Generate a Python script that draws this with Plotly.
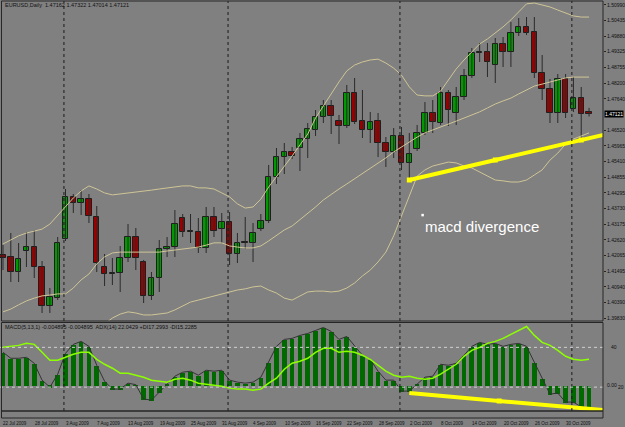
import plotly.graph_objects as go
import pandas as pd

# ---------------- data ----------------
dates = pd.bdate_range("2009-07-22", "2009-11-04")
idx = list(range(len(dates)))

opens = [1.42077, 1.42006, 1.41471, 1.42220, 1.42362, 1.41649, 1.40259, 1.40544, 1.42648, 1.44145,
         1.43931, 1.44074, 1.43432, 1.41649, 1.41400, 1.41436, 1.41970, 1.42719, 1.41828, 1.40616,
         1.41257, 1.42291, 1.42362, 1.43396, 1.42933, 1.42897, 1.42327, 1.43432, 1.43004, 1.43254,
         1.42113, 1.42541, 1.42505, 1.43004, 1.43289, 1.44858, 1.45571, 1.45749, 1.45892, 1.46213,
         1.46533, 1.46997, 1.47389, 1.46854, 1.46676, 1.47853, 1.46854, 1.46533, 1.46854, 1.46070,
         1.45749, 1.46320, 1.45357, 1.45856, 1.46427, 1.47140, 1.46783, 1.47853, 1.47140, 1.47710,
         1.48459, 1.49279, 1.49314, 1.48851, 1.49599, 1.49314, 1.49992, 1.50205, 1.50027, 1.48566,
         1.47995, 1.47140, 1.48352, 1.47282, 1.47674, 1.47162]
highs = [1.42434, 1.42862, 1.42505, 1.42897, 1.42968, 1.41863, 1.40901, 1.42719, 1.44430, 1.44252,
         1.44394, 1.44252, 1.43824, 1.42113, 1.41970, 1.42398, 1.43182, 1.43040, 1.41899, 1.41471,
         1.42612, 1.42719, 1.43681, 1.43539, 1.43539, 1.43396, 1.43788, 1.43788, 1.43575, 1.43610,
         1.42862, 1.43432, 1.43218, 1.43539, 1.45286, 1.45892, 1.46070, 1.45927, 1.46427, 1.46783,
         1.47246, 1.47603, 1.47603, 1.47068, 1.48138, 1.48387, 1.47959, 1.47175, 1.47140, 1.46284,
         1.46605, 1.46640, 1.46427, 1.46712, 1.47532, 1.47603, 1.48066, 1.47959, 1.48066, 1.48708,
         1.49457, 1.49635, 1.49635, 1.49813, 1.49849, 1.50384, 1.50526, 1.50562, 1.50562, 1.49207,
         1.48352, 1.48530, 1.48530, 1.48423, 1.48066, 1.47322]
lows = [1.41542, 1.41115, 1.41115, 1.41649, 1.41257, 1.40010, 1.40010, 1.40473, 1.42576, 1.43575,
        1.43503, 1.43218, 1.41471, 1.40972, 1.41008, 1.40758, 1.41828, 1.41542, 1.40366, 1.40473,
        1.40758, 1.42006, 1.42006, 1.42719, 1.42505, 1.42149, 1.42149, 1.42719, 1.42505, 1.41721,
        1.41792, 1.42291, 1.41828, 1.42933, 1.43218, 1.44608, 1.44965, 1.45500, 1.45072, 1.45535,
        1.46320, 1.46783, 1.46391, 1.46034, 1.46605, 1.46747, 1.46248, 1.46070, 1.45571, 1.45214,
        1.45535, 1.45107, 1.44751, 1.45785, 1.46355, 1.46427, 1.46712, 1.46676, 1.46712, 1.47603,
        1.48387, 1.48958, 1.48423, 1.48209, 1.48779, 1.48779, 1.49885, 1.49920, 1.48387, 1.47603,
        1.46783, 1.46783, 1.46961, 1.47175, 1.46177, 1.47014]
closes = [1.41970, 1.41471, 1.41935, 1.42362, 1.41649, 1.40259, 1.40580, 1.42505, 1.44145, 1.43931,
          1.44074, 1.43468, 1.41792, 1.41400, 1.41436, 1.41970, 1.42719, 1.41970, 1.40616, 1.41257,
          1.42291, 1.42362, 1.43182, 1.42897, 1.42897, 1.42327, 1.43432, 1.42933, 1.43254, 1.42113,
          1.42505, 1.42505, 1.42862, 1.43289, 1.44858, 1.45571, 1.45749, 1.45607, 1.46213, 1.46569,
          1.46997, 1.47389, 1.47033, 1.46676, 1.47853, 1.46819, 1.46533, 1.46819, 1.46070, 1.45749,
          1.46320, 1.45357, 1.45678, 1.46427, 1.47140, 1.46819, 1.47853, 1.47246, 1.47710, 1.48459,
          1.49279, 1.49314, 1.48958, 1.49599, 1.49314, 1.49992, 1.50205, 1.49992, 1.48566, 1.47995,
          1.47140, 1.48352, 1.47140, 1.47674, 1.47104, 1.47121]

bb_upper = [1.4247, 1.4261, 1.4276, 1.4286, 1.4293, 1.4300, 1.4318, 1.4350, 1.4382, 1.4411,
            1.4436, 1.4454, 1.4443, 1.4429, 1.4422, 1.4425, 1.4429, 1.4432, 1.4436, 1.4439,
            1.4443, 1.4447, 1.4450, 1.4454, 1.4454, 1.4447, 1.4447, 1.4443, 1.4429, 1.4415,
            1.4390, 1.4375, 1.4379, 1.4407, 1.4450, 1.4486, 1.4525, 1.4561, 1.4600, 1.4639,
            1.4696, 1.4739, 1.4785, 1.4825, 1.4864, 1.4885, 1.4896, 1.4903, 1.4906, 1.4892,
            1.4874, 1.4849, 1.4807, 1.4778, 1.4775, 1.4775, 1.4792, 1.4832, 1.4871, 1.4903,
            1.4931, 1.4960, 1.4978, 1.4999, 1.5021, 1.5046, 1.5074, 1.5103, 1.5106, 1.5099,
            1.5092, 1.5081, 1.5071, 1.5060, 1.5056, 1.5056]
bb_mid = [1.4005, 1.4015, 1.4030, 1.4044, 1.4054, 1.4062, 1.4065, 1.4069, 1.4069, 1.4090,
          1.4119, 1.4140, 1.4176, 1.4201, 1.4215, 1.4218, 1.4218, 1.4218, 1.4218, 1.4218,
          1.4218, 1.4222, 1.4226, 1.4229, 1.4233, 1.4236, 1.4243, 1.4251, 1.4251, 1.4240,
          1.4236, 1.4233, 1.4233, 1.4240, 1.4258, 1.4276, 1.4297, 1.4311, 1.4333, 1.4354,
          1.4379, 1.4404, 1.4425, 1.4443, 1.4461, 1.4479, 1.4497, 1.4518, 1.4536, 1.4554,
          1.4575, 1.4593, 1.4611, 1.4628, 1.4643, 1.4653, 1.4664, 1.4675, 1.4685, 1.4696,
          1.4707, 1.4718, 1.4732, 1.4746, 1.4757, 1.4767, 1.4782, 1.4796, 1.4810, 1.4817,
          1.4825, 1.4832, 1.4839, 1.4842, 1.4842, 1.4842]
bb_lower = [1.3791, 1.3826, 1.3848, 1.3862, 1.3869, 1.3848, 1.3826, 1.3791, 1.3762, 1.3769,
            1.3805, 1.3862, 1.3919, 1.3962, 1.3983, 1.3997, 1.4005, 1.4001, 1.3994, 1.3994,
            1.3997, 1.4001, 1.4012, 1.4026, 1.4040, 1.4047, 1.4054, 1.4062, 1.4069, 1.4076,
            1.4083, 1.4087, 1.4094, 1.4097, 1.4083, 1.4072, 1.4054, 1.4047, 1.4062, 1.4076,
            1.4079, 1.4079, 1.4076, 1.4079, 1.4090, 1.4108, 1.4133, 1.4154, 1.4183, 1.4218,
            1.4276, 1.4350, 1.4418, 1.4489, 1.4511, 1.4525, 1.4532, 1.4539, 1.4536, 1.4525,
            1.4518, 1.4504, 1.4489, 1.4475, 1.4472, 1.4468, 1.4468, 1.4475, 1.4493, 1.4511,
            1.4546, 1.4571, 1.4603, 1.4621, 1.4632, 1.4643]

macd_vals = [0.00710, 0.00581, 0.00581, 0.00602, 0.00473, 0.00108, -0.00043, 0.00237, 0.00688, 0.00882,
             0.00946, 0.00839, 0.00430, 0.00086, -0.00086, -0.00086, 0.00043, 0.00010, -0.00301, -0.00323,
             -0.00151, 0.00022, 0.00194, 0.00280, 0.00301, 0.00215, 0.00323, 0.00301, 0.00323, 0.00108,
             0.00065, 0.00043, 0.00065, 0.00172, 0.00495, 0.00839, 0.00989, 0.01011, 0.01075, 0.01118,
             0.01183, 0.01247, 0.01161, 0.00989, 0.01054, 0.00839, 0.00645, 0.00559, 0.00301, 0.00108,
             0.00108, -0.00129, -0.00129, 0.00022, 0.00172, 0.00194, 0.00452, 0.00430, 0.00473, 0.00645,
             0.00839, 0.00925, 0.00882, 0.00903, 0.00839, 0.00882, 0.00903, 0.00839, 0.00495, 0.00151,
             -0.00194, -0.00172, -0.00366, -0.00366, -0.00473, -0.004895]

adx_vals = [40.0, 40.5, 41.0, 42.0, 41.5, 37.5, 33.5, 33.5, 35.0, 36.5,
            37.5, 37.5, 34.0, 31.5, 29.5, 27.0, 27.0, 26.0, 25.0, 23.5,
            23.0, 22.5, 24.0, 24.5, 23.5, 22.0, 21.5, 21.0, 20.5, 19.5,
            19.0, 19.0, 18.5, 19.0, 22.0, 24.5, 29.0, 32.0, 33.0, 34.5,
            37.5, 39.5, 39.5, 37.5, 38.0, 37.5, 36.0, 34.0, 31.0, 28.0,
            26.0, 25.0, 25.5, 24.5, 24.0, 24.5, 26.5, 29.0, 31.5, 35.5,
            38.5, 40.0, 42.0, 43.0, 44.5, 46.5, 48.5, 50.5, 46.0, 42.5,
            41.0, 38.5, 35.5, 34.0, 33.5, 34.0]

price_ticks = [1.50990, 1.50435, 1.49880, 1.49325, 1.48755, 1.48200, 1.47640, 1.46520, 1.45965,
               1.45410, 1.44855, 1.44295, 1.43730, 1.43175, 1.42620, 1.42065, 1.41495, 1.40940,
               1.40390, 1.39830]
last_price = 1.47121
header_text = "EURUSD,Daily  1.47162 1.47322 1.47014 1.47121"
macd_text = "MACD(5,13,1) -0.004895 -0.004895  ADX(14) 22.0429 +DI17.2993 -DI15.2285"
macd_labels = [("0.01364", 0.01364), ("0.00", 0.0), ("-0.00570", -0.00570)]
adx_levels = [40, 20]
# trend-line anchors: (bar index, value)
price_trend = [(52, 1.44751), (74, 1.46177)]
macd_trend = [(52, -0.00172), (75, -0.00512)]
note_text = "macd divergence"
note_pos = (53.8, 1.43093)
note_anchor = (53.7, 1.4350)
label_every = 4

# ---------------- layout helpers ----------------
W, H = 625, 427
R = 20
PW = W - R
def px(x):
    return x / PW
def py(y):
    return 1 - y / H

BG = "#808080"
DARK = "#262626"
BULL = "#009a00"
BEAR = "#9a0000"
BAND = "#cfc596"
YEL = "#ffff00"

fig = go.Figure()

# wicks
wx, wy = [], []
for i, h, l in zip(idx, highs, lows):
    wx += [i, i, None]
    wy += [l, h, None]
fig.add_trace(go.Scatter(x=wx, y=wy, mode="lines", line=dict(color="#2a2a2a", width=1),
                         hoverinfo="skip", showlegend=False, yaxis="y"))
# bodies
body_h, body_b, body_c = [], [], []
for o, c in zip(opens, closes):
    body_b.append(min(o, c))
    body_h.append(max(abs(c - o), 0.00003))
    body_c.append(BULL if c > o else BEAR)
fig.add_trace(go.Bar(x=idx, y=body_h, base=body_b, width=0.7, marker=dict(color=body_c,
                     line=dict(color="#1e1e1e", width=1)), showlegend=False, yaxis="y"))

# Bollinger bands
for band in (bb_upper, bb_mid, bb_lower):
    fig.add_trace(go.Scatter(x=idx, y=band, mode="lines", line=dict(color=BAND, width=1),
                             showlegend=False, hoverinfo="skip", yaxis="y"))

# price trend line (ray to the right)
(x0, y0), (x1, y1) = price_trend
slope = (y1 - y0) / (x1 - x0)
xe = idx[-1] + 4
fig.add_trace(go.Scatter(x=[x0, xe], y=[y0, y1 + slope * (xe - x1)], mode="lines",
                         line=dict(color=YEL, width=4), showlegend=False, yaxis="y"))
fig.add_trace(go.Scatter(x=[x0, (x0 + x1) / 2, x1], y=[y0, (y0 + y1) / 2, y1], mode="markers",
                         marker=dict(color=YEL, size=5, symbol="square"), showlegend=False, yaxis="y"))
# text object anchor dot
fig.add_trace(go.Scatter(x=[note_anchor[0]], y=[note_anchor[1]], mode="markers",
                         marker=dict(color="#ffffff", size=2.5, symbol="square"), showlegend=False, yaxis="y"))

# MACD histogram + line
fig.add_trace(go.Bar(x=idx, y=macd_vals, width=0.6, marker=dict(color="#006a00", line=dict(width=0)),
                     showlegend=False, yaxis="y2"))
fig.add_trace(go.Scatter(x=idx, y=macd_vals, mode="lines", line=dict(color="#333333", width=1),
                         showlegend=False, yaxis="y2"))
# MACD trend line
(a0, b0), (a1, b1) = macd_trend
s2 = (b1 - b0) / (a1 - a0)
fig.add_trace(go.Scatter(x=[a0, xe], y=[b0, b1 + s2 * (xe - a1)], mode="lines",
                         line=dict(color=YEL, width=4), showlegend=False, yaxis="y2"))
fig.add_trace(go.Scatter(x=[(a0 + a1) / 2], y=[(b0 + b1) / 2], mode="markers",
                         marker=dict(color=YEL, size=5, symbol="square"), showlegend=False, yaxis="y2"))
# ADX line
fig.add_trace(go.Scatter(x=idx, y=adx_vals, mode="lines", line=dict(color="#8cff00", width=1.5),
                         showlegend=False, yaxis="y3"))

# ---------------- shapes ----------------
shapes = []
month_starts = [i for i in range(1, len(dates)) if dates[i].month != dates[i - 1].month]
for m in month_starts:
    shapes.append(dict(type="line", xref="x", yref="paper", x0=m - 0.2, x1=m - 0.2,
                       y0=py(411), y1=py(1), line=dict(color="#1a1a1a", width=1, dash="dot")))
for lv in adx_levels:
    shapes.append(dict(type="line", xref="paper", yref="y3", x0=0, x1=1, y0=lv, y1=lv,
                       line=dict(color="#cfcfcf", width=1, dash="dot")))
shapes.append(dict(type="rect", xref="paper", yref="paper", x0=px(1.5), x1=px(605), y0=py(321), y1=py(1),
                   line=dict(color=DARK, width=1)))
shapes.append(dict(type="rect", xref="paper", yref="paper", x0=px(1.5), x1=px(605), y0=py(411), y1=py(322.5),
                   line=dict(color=DARK, width=1)))
shapes.append(dict(type="rect", xref="paper", yref="paper", x0=px(1.5), x1=px(605), y0=py(418), y1=py(411),
                   line=dict(color=DARK, width=1)))

# ---------------- annotations ----------------
ann = []
FONT = "Liberation Sans, Arial, sans-serif"
ann.append(dict(xref="paper", yref="paper", x=px(3), y=py(5), text=header_text, showarrow=False,
                xanchor="left", yanchor="middle", font=dict(family=FONT, size=5.5, color="#111111")))
ann.append(dict(xref="paper", yref="paper", x=px(3), y=py(327), text=macd_text, showarrow=False,
                xanchor="left", yanchor="middle", font=dict(family=FONT, size=5.5, color="#111111")))
ann.append(dict(xref="x", yref="y", x=note_pos[0], y=note_pos[1], text=note_text, showarrow=False,
                xanchor="left", yanchor="middle", font=dict(family=FONT, size=15, color="#ffffff")))
ann.append(dict(xref="paper", yref="y", x=px(606), y=last_price, text=f"{last_price:.5f}", showarrow=False,
                xanchor="left", yanchor="middle", bgcolor="#000000", borderpad=0,
                font=dict(family=FONT, size=5, color="#ffffff")))
for txt, v in macd_labels:
    ann.append(dict(xref="paper", yref="y2", x=px(607), y=v, text=txt, showarrow=False,
                    xanchor="left", yanchor="middle", font=dict(family=FONT, size=5, color="#111111")))
for lv in adx_levels:
    xo = 618 if lv == 20 else 611
    ann.append(dict(xref="paper", yref="y3", x=px(xo), y=lv, text=str(lv), showarrow=False,
                    xanchor="left", yanchor="middle", font=dict(family=FONT, size=5, color="#111111")))
for i in range(0, len(dates), label_every):
    d = dates[i]
    ann.append(dict(xref="x", yref="paper", x=i - 0.2, y=py(423), text=f"{d.day} {d.strftime('%b %Y')}",
                    showarrow=False, xanchor="left", yanchor="middle",
                    font=dict(family=FONT, size=4.5, color="#111111")))

fig.update_layout(
    width=W, height=H, margin=dict(l=0, r=R, t=0, b=0),
    paper_bgcolor=BG, plot_bgcolor=BG, barmode="overlay", bargap=0,
    showlegend=False, shapes=shapes, annotations=ann,
    xaxis=dict(range=[-3 / 7.84, (PW - 3) / 7.84], visible=False, anchor="y2", fixedrange=True),
    yaxis=dict(domain=[py(321), py(1)], range=[1.397244, 1.511324], side="right", anchor="x",
               tickvals=price_ticks, ticktext=[f"{t:.5f}" for t in price_ticks],
               showgrid=False, zeroline=False, ticks="outside", ticklen=2, tickcolor=DARK,
               tickfont=dict(family=FONT, size=5, color="#111111")),
    yaxis2=dict(domain=[py(411), py(322.5)], range=[-26 / 4650, 63 / 4650], anchor="x",
                visible=False, showgrid=False, zeroline=False),
    yaxis3=dict(overlaying="y2", range=[8, 52.5], visible=False, showgrid=False, zeroline=False),
)

fig.write_html("out.html")
